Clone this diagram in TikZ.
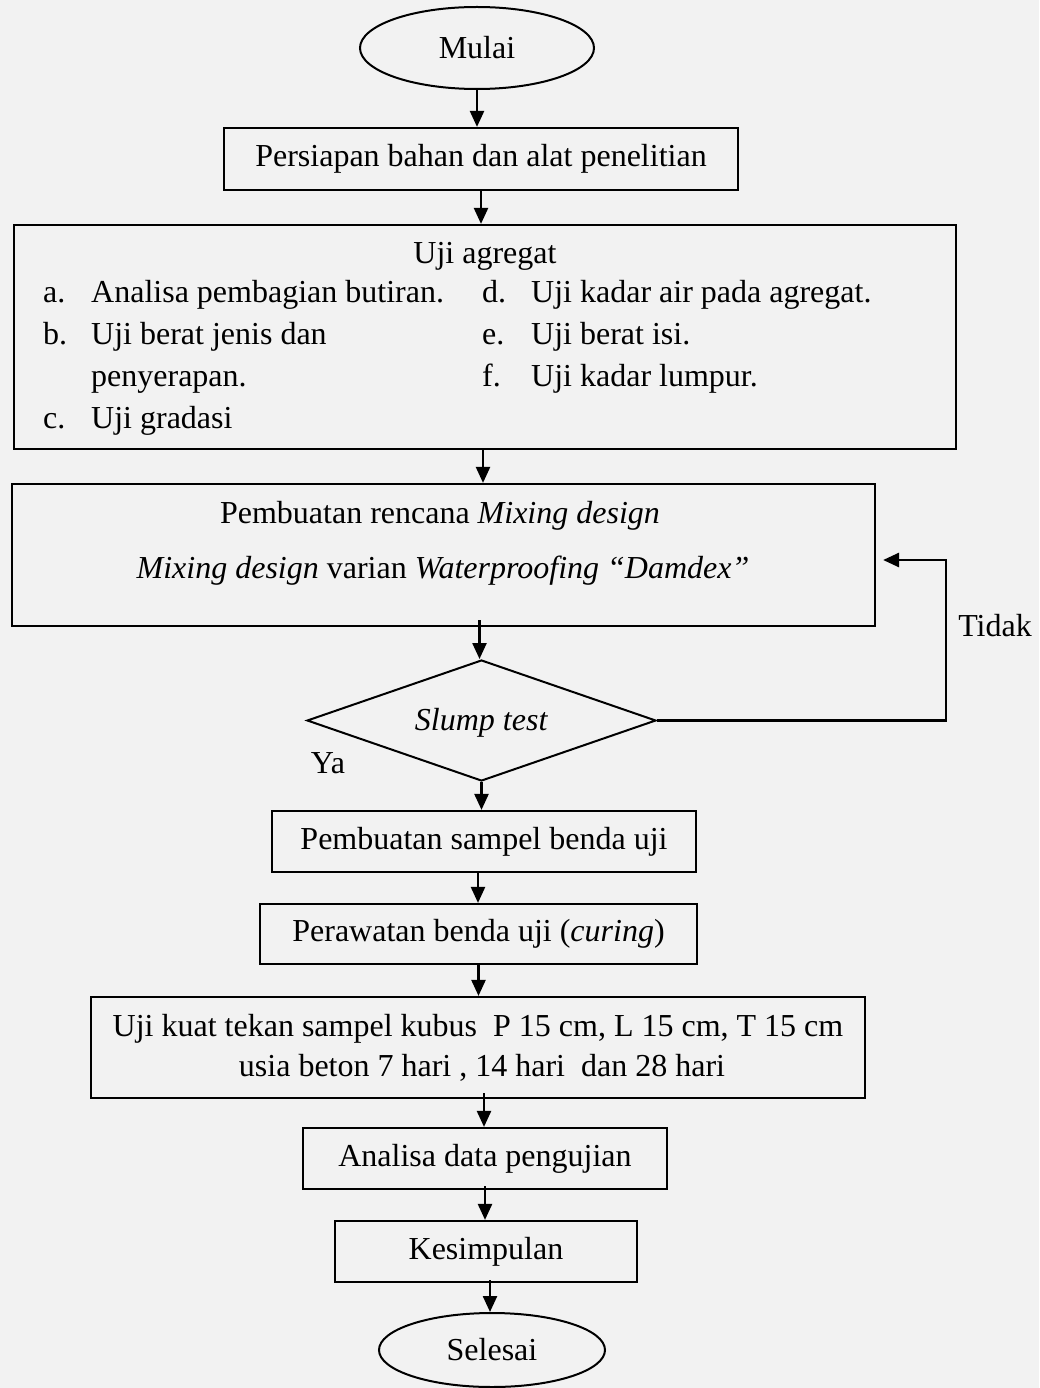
\documentclass[tikz,border=0pt]{standalone}
\usepackage{fontspec}
\setmainfont{Liberation Serif}
\usetikzlibrary{shapes.geometric,arrows.meta}
\definecolor{bg}{HTML}{F2F2F2}
\begin{document}
\begin{tikzpicture}[x=1pt,y=-1pt,
  font=\fontsize{32}{38}\selectfont,
  box/.style={draw, line width=2.2pt, rectangle, inner sep=0pt},
  oval/.style={draw, line width=2pt, ellipse, inner sep=0pt},
  txt/.style={inner sep=0pt, anchor=base},
  lab/.style={inner sep=0pt, anchor=base west},
  arr/.style={line width=2.4pt, -{Triangle[length=16pt,width=14pt]}}]
\useasboundingbox (0,0) rectangle (1039,1388);
\fill[bg] (0,0) rectangle (1039,1388);

\node[oval, minimum width=234, minimum height=82] (mulai) at (477,48) {Mulai};
\node[box, minimum width=514, minimum height=62] (persiapan) at (481,159) {Persiapan bahan dan alat penelitian};
\node[box, minimum width=942, minimum height=224] (agregat) at (485,337) {};
\node[txt] (agt) at (485,263) {Uji agregat};
\node[lab] (la) at (43,302) {a.};
\node[lab] (ta) at (91,302) {Analisa pembagian butiran.};
\node[lab] (lb) at (43,344) {b.};
\node[lab] (tb) at (91,344) {Uji berat jenis dan};
\node[lab] (tb2) at (91,386) {penyerapan.};
\node[lab] (lc) at (43,428) {c.};
\node[lab] (tc) at (91,428) {Uji gradasi};
\node[lab] (ld) at (482,302) {d.};
\node[lab] (td) at (531,302) {Uji kadar air pada agregat.};
\node[lab] (le) at (482,344) {e.};
\node[lab] (te) at (531,344) {Uji berat isi.};
\node[lab] (lf) at (482,386) {f.};
\node[lab] (tf) at (531,386) {Uji kadar lumpur.};

\node[box, minimum width=863, minimum height=142] (mix) at (443.5,555) {};
\node[txt] (mix1) at (440,523) {Pembuatan rencana \textit{Mixing design}};
\node[txt] (mix2) at (443,578) {\textit{Mixing design} varian \textit{Waterproofing ``Damdex''}};

\node[draw, line width=2pt, diamond, inner sep=0pt, aspect=2.88,
      minimum width=349, minimum height=121] (slump) at (481.5,720.5) {};
\node[txt] (slumpt) at (481.5,730) {\textit{Slump test}};
\node[txt] (ya) at (328,773) {Ya};

\node[box, minimum width=424, minimum height=61] (sampel) at (484,841.5) {Pembuatan sampel benda uji};
\node[box, minimum width=437, minimum height=60] (rawat) at (478.5,934) {Perawatan benda uji (\textit{curing})};
\node[box, minimum width=774, minimum height=101] (kuat) at (478,1047.5) {};
\node[txt] (kuat1) at (478,1036) {Uji kuat tekan sampel kubus\ \ P 15 cm, L 15 cm, T 15 cm};
\node[txt] (kuat2) at (482,1076) {usia beton 7 hari , 14 hari\ \ dan 28 hari};
\node[box, minimum width=364, minimum height=61] (analisa) at (485,1158.5) {Analisa data pengujian};
\node[box, minimum width=302, minimum height=61] (simpul) at (486,1251.5) {Kesimpulan};
\node[oval, minimum width=226, minimum height=74] (selesai) at (492,1350) {Selesai};

\coordinate (tk) at (946,560);
\node[txt] (tidak) at (995,636) {Tidak};

\draw[arr] (mulai.south) -- (mulai.south |- persiapan.north);
\draw[arr] (persiapan.south) -- (persiapan.south |- agregat.north);
\draw[arr] ([xshift=-2pt]agregat.south) -- ([xshift=-2pt]agregat.south |- mix.north);
\draw[arr] ([xshift=36pt,yshift=7pt]mix.south) -- ([xshift=36pt]mix.south |- slump.north);
\draw[arr] (slump.south) -- (slump.south |- sampel.north);
\draw[arr] ([xshift=-6pt]sampel.south) -- ([xshift=-6pt]sampel.south |- rawat.north);
\draw[arr] (rawat.south) -- (rawat.south |- kuat.north);
\draw[arr] ([xshift=6pt,yshift=6pt]kuat.south) -- ([xshift=6pt]kuat.south |- analisa.north);
\draw[arr] ([yshift=4pt]analisa.south) -- (analisa.south |- simpul.north);
\draw[arr] ([xshift=4pt,yshift=3pt]simpul.south) -- ([xshift=4pt]simpul.south |- selesai.north);
\draw[arr, line width=2.8pt] (slump.east) -| (tk) -- ([xshift=7pt]mix.east |- tk);
\end{tikzpicture}
\end{document}
